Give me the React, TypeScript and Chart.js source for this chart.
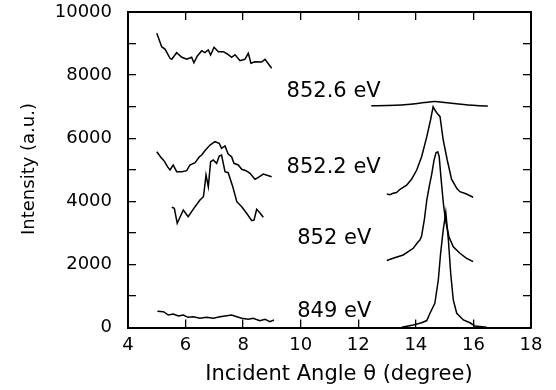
import React, { useEffect, useRef } from "react";
import { Chart, registerables } from "chart.js";

Chart.register(...registerables);

// ---- axis ticks ----
const xTicks = [4, 6, 8, 10, 12, 14, 16, 18];
const yTicks = [0, 2000, 4000, 6000, 8000, 10000];
const yMinorTicks = [1000, 3000, 5000, 7000, 9000];

// ---- 852.6 eV ----
const x852_6L = [5.0, 5.17, 5.29, 5.46, 5.52, 5.69, 5.87, 6.04, 6.21, 6.29, 6.41, 6.56, 6.67, 6.79, 6.87, 6.99, 7.14, 7.31, 7.45, 7.6, 7.72, 7.89, 8.06, 8.18, 8.27, 8.41, 8.64, 8.76, 8.99];
const y852_6L = [9325, 8900, 8818, 8532, 8501, 8710, 8564, 8501, 8564, 8393, 8605, 8773, 8710, 8796, 8637, 8881, 8742, 8742, 8669, 8564, 8647, 8457, 8501, 8691, 8374, 8425, 8415, 8501, 8216];
const x852_6R = [12.45, 13.0, 13.5, 13.9, 14.3, 14.65, 15.0, 15.4, 15.8, 16.2, 16.5];
const y852_6R = [7025, 7035, 7055, 7085, 7130, 7160, 7135, 7090, 7050, 7028, 7020];

// ---- 852.2 eV ----
const x852_2L = [5.0, 5.14, 5.25, 5.37, 5.46, 5.57, 5.69, 5.87, 6.04, 6.15, 6.33, 6.48, 6.56, 6.67, 6.85, 7.02, 7.17, 7.25, 7.37, 7.48, 7.6, 7.68, 7.83, 7.95, 8.1, 8.24, 8.41, 8.53, 8.7, 8.99];
const y852_2L = [5572, 5395, 5287, 5097, 4992, 5151, 4938, 4938, 4970, 5151, 5223, 5414, 5468, 5604, 5784, 5889, 5838, 5680, 5753, 5499, 5414, 5204, 5151, 5014, 4970, 4887, 4697, 4761, 4865, 4780];
const x852_2R = [12.99, 13.1, 13.21, 13.33, 13.45, 13.68, 13.85, 14.03, 14.2, 14.38, 14.51, 14.6, 14.66, 14.74, 14.84, 14.95, 15.09, 15.24, 15.42, 15.53, 15.76, 15.99];
const y852_2R = [4231, 4210, 4254, 4280, 4380, 4509, 4697, 4992, 5414, 6048, 6577, 6998, 6894, 6789, 6682, 5943, 5309, 4700, 4412, 4304, 4231, 4127];

// ---- 852 eV ----
const x852L = [5.52, 5.61, 5.71, 5.92, 6.09, 6.33, 6.5, 6.62, 6.65, 6.71, 6.79, 6.87, 6.96, 7.08, 7.17, 7.25, 7.37, 7.48, 7.64, 7.78, 7.95, 8.12, 8.3, 8.38, 8.47, 8.58, 8.7];
const y852L = [3810, 3778, 3303, 3724, 3512, 3829, 4041, 4146, 4358, 4834, 4463, 5255, 5309, 5204, 5436, 5468, 4938, 4906, 4463, 3987, 3829, 3620, 3385, 3407, 3746, 3639, 3493];
const x852R = [12.99, 13.21, 13.56, 13.91, 14.08, 14.14, 14.2, 14.3, 14.38, 14.47, 14.55, 14.63, 14.7, 14.76, 14.81, 14.88, 14.96, 15.03, 15.15, 15.3, 15.53, 15.75, 15.99];
const y852R = [2123, 2193, 2298, 2510, 2719, 2773, 2900, 3450, 4041, 4500, 4850, 5300, 5540, 5570, 5420, 4675, 3900, 3407, 2878, 2561, 2352, 2200, 2086];

// ---- 849 eV ----
const x849L = [5.02, 5.23, 5.4, 5.57, 5.75, 5.92, 6.09, 6.27, 6.5, 6.73, 6.96, 7.2, 7.43, 7.6, 7.78, 7.95, 8.18, 8.35, 8.58, 8.76, 8.93, 9.07];
const y849L = [517, 501, 396, 428, 364, 396, 323, 342, 292, 323, 292, 342, 374, 396, 342, 292, 260, 292, 215, 260, 184, 238];
const x849R = [13.51, 13.91, 14.2, 14.38, 14.49, 14.66, 14.78, 14.86, 14.95, 15.04, 15.13, 15.21, 15.3, 15.42, 15.65, 15.88, 16.05, 16.46];
const y849R = [6, 79, 150, 220, 452, 767, 1506, 2352, 3090, 3650, 2773, 1718, 872, 450, 238, 150, 48, 6];

// ---- curve labels ----
const curveLabels = ["852.6 eV", "852.2 eV", "852 eV", "849 eV"];
const labelAnchorX = [9.51, 9.51, 9.88, 9.88];
const labelAnchorY = [7315, 4887, 2647, 342];

const xTitle = "Incident Angle \u03b8 (degree)";
const yTitle = "Intensity (a.u.)";

const FONT = "'DejaVu Sans', 'Liberation Sans', Arial, sans-serif";

function pts(xs: number[], ys: number[]) {
  return xs.map((x, i) => ({ x, y: ys[i] }));
}

const allYTicks = [...yTicks, ...yMinorTicks].sort((a, b) => a - b);

const textPlugin = {
  id: "texts",
  afterDraw(chart: any) {
    const ctx = chart.ctx as CanvasRenderingContext2D;
    const xs = chart.scales.x;
    const ys = chart.scales.y;
    ctx.save();
    ctx.fillStyle = "#000000";
    ctx.font = `21px ${FONT}`;
    ctx.textAlign = "left";
    ctx.textBaseline = "alphabetic";
    curveLabels.forEach((t, i) => {
      ctx.fillText(t, xs.getPixelForValue(labelAnchorX[i]), ys.getPixelForValue(labelAnchorY[i]));
    });
    ctx.font = `21px ${FONT}`;
    ctx.textAlign = "center";
    ctx.fillText(xTitle, 339, 380);
    ctx.font = `18px ${FONT}`;
    ctx.translate(33.5, 169);
    ctx.rotate(-Math.PI / 2);
    ctx.textAlign = "center";
    ctx.fillText(yTitle, 0, 0);
    ctx.restore();
  },
};

const gridInward = {
  display: true,
  drawOnChartArea: false,
  drawTicks: true,
  tickLength: -8,
  tickWidth: 1.3,
  tickColor: "#000",
  color: "#000",
  lineWidth: 1.3,
};
const borderBlack = { display: true, color: "#000", width: 2 };

const noPad = (s: any) => {
  s.paddingTop = 0;
  s.paddingBottom = 0;
  s.paddingLeft = 0;
  s.paddingRight = 0;
};

export default function App() {
  const ref = useRef<HTMLCanvasElement>(null);
  useEffect(() => {
    const mk = (xs: number[], ys: number[], smooth = false) => ({
      data: pts(xs, ys),
      borderColor: "#000",
      borderWidth: 1.5,
      pointRadius: 0,
      fill: false,
      tension: smooth ? 0.4 : 0,
      cubicInterpolationMode: smooth ? "monotone" : "default",
    });
    const setX = (s: any) => {
      s.ticks = xTicks.map((v) => ({ value: v }));
    };
    const setY = (s: any) => {
      s.ticks = allYTicks.map((v) => ({ value: v }));
    };
    const chart = new Chart(ref.current as HTMLCanvasElement, {
      type: "line",
      data: {
        datasets: [
          mk(x852_6L, y852_6L),
          mk(x852_6R, y852_6R, true),
          mk(x852_2L, y852_2L),
          mk(x852_2R, y852_2R),
          mk(x852L, y852L),
          mk(x852R, y852R),
          mk(x849L, y849L),
          mk(x849R, y849R),
        ] as any,
      },
      options: {
        animation: false,
        responsive: false,
        maintainAspectRatio: false,
        layout: { padding: { top: 12, right: 25, left: 0, bottom: 0 } },
        plugins: { legend: { display: false }, tooltip: { enabled: false } },
        scales: {
          x: {
            type: "linear",
            position: "bottom",
            min: 4,
            max: 18,
            grid: gridInward,
            border: borderBlack,
            ticks: {
              color: "#000",
              font: { family: FONT, size: 18 },
              padding: 15,
              maxRotation: 0,
              autoSkip: false,
              callback: (v: any) => String(v),
            },
            afterBuildTicks: setX,
            afterFit: (s: any) => {
              s.height = 62.5;
              noPad(s);
            },
          },
          x2: {
            type: "linear",
            position: "top",
            min: 4,
            max: 18,
            grid: gridInward,
            border: borderBlack,
            ticks: { display: false },
            afterBuildTicks: setX,
            afterFit: (s: any) => {
              s.height = 0;
              noPad(s);
            },
          },
          y: {
            type: "linear",
            position: "left",
            min: 0,
            max: 10000,
            grid: gridInward,
            border: borderBlack,
            ticks: {
              color: "#000",
              font: { family: FONT, size: 18 },
              padding: 24,
              autoSkip: false,
              callback: (v: any) => (yTicks.includes(Number(v)) ? String(v) : ""),
            },
            afterBuildTicks: setY,
            afterFit: (s: any) => {
              s.width = 128;
              noPad(s);
            },
          },
          y2: {
            type: "linear",
            position: "right",
            min: 0,
            max: 10000,
            grid: gridInward,
            border: borderBlack,
            ticks: { display: false },
            afterBuildTicks: setY,
            afterFit: (s: any) => {
              s.width = 0;
              noPad(s);
            },
          },
        },
      } as any,
      plugins: [textPlugin],
    });
    return () => chart.destroy();
  }, []);
  return (
    <div style={{ position: "absolute", left: 0, top: 0, width: 556, height: 390, background: "#fff" }}>
      <canvas ref={ref} width={556} height={390} style={{ display: "block", width: 556, height: 390 }} />
    </div>
  );
}
